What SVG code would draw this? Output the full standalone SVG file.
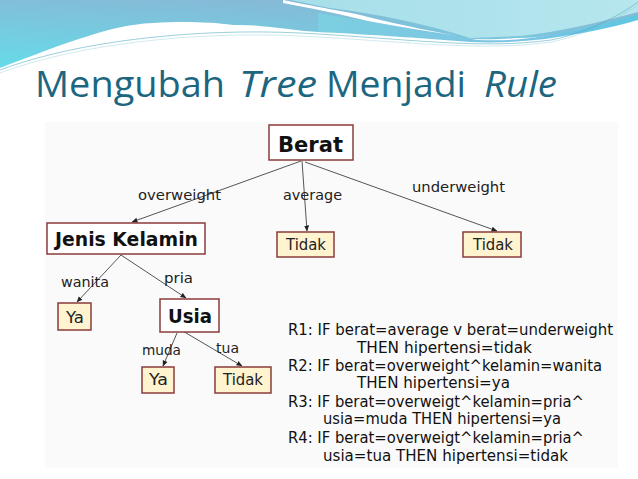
<svg xmlns="http://www.w3.org/2000/svg" width="638" height="479" viewBox="0 0 638 479">
<defs>
<linearGradient id="gLeft" x1="0" y1="1" x2="0.4" y2="0">
<stop offset="0" stop-color="#66dbe9"/>
<stop offset="1" stop-color="#86bad6"/>
</linearGradient>
<linearGradient id="gRight" x1="0" y1="0" x2="1" y2="0">
<stop offset="0" stop-color="#a6dfe9"/>
<stop offset="1" stop-color="#b6e6ee"/>
</linearGradient>
<linearGradient id="gBand" x1="0" y1="0" x2="1" y2="0">
<stop offset="0" stop-color="#7ccfe0"/>
<stop offset="0.6" stop-color="#7cc3e4"/>
<stop offset="1" stop-color="#5fc6e0"/>
</linearGradient>
<marker id="arr" markerWidth="6" markerHeight="6" refX="5.5" refY="3" orient="auto" markerUnits="userSpaceOnUse">
<path d="M0,0.5 L6,3 L0,5.5 z" fill="#222"/>
</marker>
<style>
.lbl{font-family:"DejaVu Sans",sans-serif;font-size:13.5px;fill:#222}
.nb{font-family:"DejaVu Sans",sans-serif;font-weight:bold;fill:#111}
.nl{font-family:"DejaVu Sans",sans-serif;font-size:15px;fill:#222}
.box{fill:#ffffff;stroke:#8a3b3b;stroke-width:1.5}
.leaf{fill:#fff4cf;stroke:#8a3b3b;stroke-width:1.5}
.rule{font-family:"DejaVu Sans",sans-serif;font-size:15px;fill:#111}
.edge{stroke:#555;stroke-width:1;fill:none;marker-end:url(#arr)}
.title{font-family:"Open Sans",sans-serif;font-size:36px;fill:#1c6680}
</style>
</defs>
<rect width="638" height="479" fill="#ffffff"/>
<rect x="45" y="122" width="573" height="346" fill="#fafafa"/>
<!-- top decoration -->
<path d="M0,0 L638,0 L638,15 C600,25 560,38 518,38 C490,40 470,40 420,35 C380,33 350,32 318,32 C290,30 260,24 233,25 C200,20 150,22 133,25 C100,30 60,45 0,68 Z" fill="url(#gLeft)"/>
<path d="M290,0 L638,0 L638,12 C600,22 560,32 520,36 L470,38 C430,25 380,14 330,8 Z" fill="url(#gRight)"/>
<path d="M318,13 C360,20 420,30 478,40 C500,41 520,40 545,36 C580,30 610,22 638,14 L638,20 C610,28 580,34 545,39 C520,42 495,43 470,42 C420,38 360,34 318,32 Z" fill="url(#gBand)"/>
<path d="M283,0 C310,6 350,12 368,17 C400,25 440,33 470,38 C440,33 400,27 368,21 C340,14 310,8 283,3 Z" fill="#ffffff"/>
<path d="M0,70 C80,40 200,28 300,33 C400,38 480,50 551,40 C590,32 620,15 638,2" fill="none" stroke="#4aa8c0" stroke-width="0.8" opacity="0.7"/>
<path d="M0,73 C80,43 200,31 300,36 C400,41 480,52 551,42 C590,34 620,17 638,5" fill="none" stroke="#7fc3d3" stroke-width="0.6" opacity="0.6"/>
<!-- title -->
<text class="title" x="35" y="97" textLength="190" lengthAdjust="spacingAndGlyphs">Mengubah</text>
<text class="title" x="239" y="97" font-style="italic" textLength="78" lengthAdjust="spacingAndGlyphs">Tree</text>
<text class="title" x="326" y="97" textLength="140" lengthAdjust="spacingAndGlyphs">Menjadi</text>
<text class="title" x="484" y="97" font-style="italic" textLength="73" lengthAdjust="spacingAndGlyphs">Rule</text>
<!-- connectors -->
<g id="connectors">
<line class="edge" x1="301" y1="161" x2="132" y2="222"/>
<line class="edge" x1="302" y1="161" x2="307" y2="231"/>
<line class="edge" x1="305" y1="162" x2="497" y2="231"/>
<line class="edge" x1="121" y1="255" x2="77" y2="302"/>
<line class="edge" x1="121" y1="255" x2="186" y2="298"/>
<line class="edge" x1="177" y1="333" x2="163" y2="366"/>
<line class="edge" x1="181" y1="330" x2="242" y2="366"/>
<text class="lbl" x="138" y="200" textLength="83" lengthAdjust="spacingAndGlyphs">overweight</text>
<text class="lbl" x="283" y="200" textLength="59" lengthAdjust="spacingAndGlyphs">average</text>
<text class="lbl" x="412" y="192" textLength="93" lengthAdjust="spacingAndGlyphs">underweight</text>
<text class="lbl" x="61" y="287" textLength="48" lengthAdjust="spacingAndGlyphs">wanita</text>
<text class="lbl" x="164" y="283" textLength="29" lengthAdjust="spacingAndGlyphs">pria</text>
<text class="lbl" x="142" y="355" textLength="39" lengthAdjust="spacingAndGlyphs">muda</text>
<text class="lbl" x="216" y="353" textLength="23" lengthAdjust="spacingAndGlyphs">tua</text>
</g>
<!-- nodes -->
<g id="berat">
<rect class="box" x="269" y="125" width="84" height="35"/>
<text class="nb" x="278" y="152" font-size="22" textLength="65" lengthAdjust="spacingAndGlyphs">Berat</text>
</g>
<g id="jenis-kelamin">
<rect class="box" x="47" y="223" width="158" height="31"/>
<text class="nb" x="55" y="246" font-size="19" textLength="143" lengthAdjust="spacingAndGlyphs">Jenis Kelamin</text>
</g>
<g id="tidak-average">
<rect class="leaf" x="277" y="232" width="57" height="25"/>
<text class="nl" x="286" y="250" textLength="40" lengthAdjust="spacingAndGlyphs">Tidak</text>
</g>
<g id="tidak-underweight">
<rect class="leaf" x="463" y="232" width="58" height="25"/>
<text class="nl" x="473" y="250" textLength="40" lengthAdjust="spacingAndGlyphs">Tidak</text>
</g>
<g id="ya-wanita">
<rect class="leaf" x="58" y="303" width="33" height="27"/>
<text class="nl" x="66" y="323" textLength="18" lengthAdjust="spacingAndGlyphs">Ya</text>
</g>
<g id="usia">
<rect class="box" x="160" y="299" width="59" height="33"/>
<text class="nb" x="168" y="323" font-size="20" textLength="44" lengthAdjust="spacingAndGlyphs">Usia</text>
</g>
<g id="ya-muda">
<rect class="leaf" x="142" y="367" width="32" height="26"/>
<text class="nl" x="149" y="385" textLength="19" lengthAdjust="spacingAndGlyphs">Ya</text>
</g>
<g id="tidak-tua">
<rect class="leaf" x="215" y="367" width="56" height="26"/>
<text class="nl" x="223" y="385" textLength="40" lengthAdjust="spacingAndGlyphs">Tidak</text>
</g>
<!-- rules -->
<g id="rules">
<text class="rule" x="288" y="335" textLength="325" lengthAdjust="spacingAndGlyphs">R1: IF berat=average v berat=underweight</text>
<text class="rule" x="357" y="353" textLength="175" lengthAdjust="spacingAndGlyphs">THEN hipertensi=tidak</text>
<text class="rule" x="288" y="371" textLength="314" lengthAdjust="spacingAndGlyphs">R2: IF berat=overweight^kelamin=wanita</text>
<text class="rule" x="357" y="388" textLength="153" lengthAdjust="spacingAndGlyphs">THEN hipertensi=ya</text>
<text class="rule" x="288" y="407" textLength="296" lengthAdjust="spacingAndGlyphs">R3: IF berat=overweigt^kelamin=pria^</text>
<text class="rule" x="323" y="424" textLength="238" lengthAdjust="spacingAndGlyphs">usia=muda THEN hipertensi=ya</text>
<text class="rule" x="288" y="443" textLength="296" lengthAdjust="spacingAndGlyphs">R4: IF berat=overweigt^kelamin=pria^</text>
<text class="rule" x="323" y="461" textLength="245" lengthAdjust="spacingAndGlyphs">usia=tua THEN hipertensi=tidak</text>
</g>
</svg>
